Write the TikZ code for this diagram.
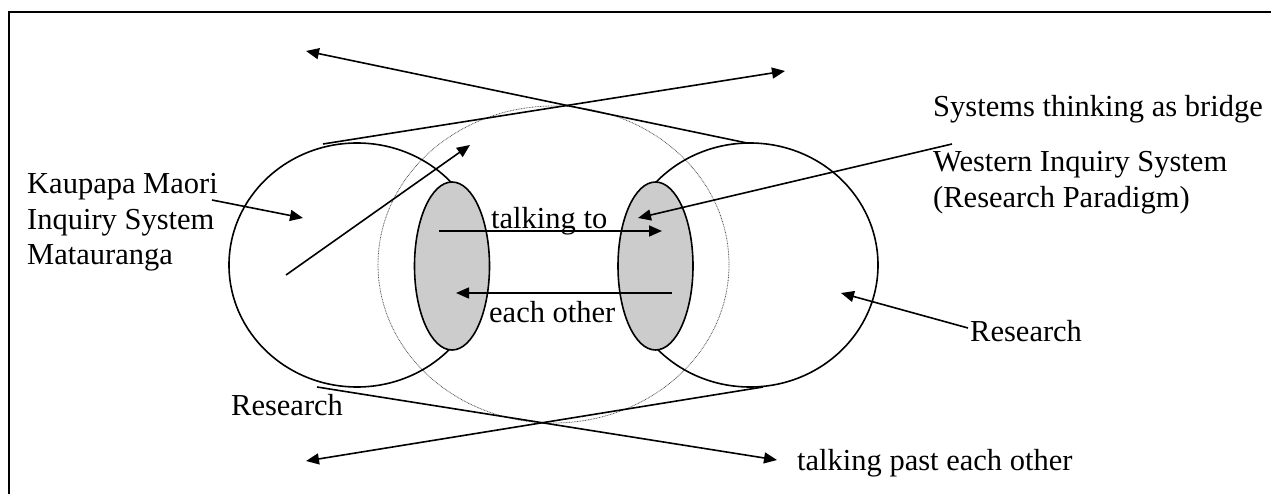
\documentclass[tikz,border=0pt]{standalone}
\usepackage{fontspec}
\setmainfont{Liberation Serif}
\usepackage{tikz}
\usetikzlibrary{positioning,arrows.meta,shapes.geometric}
\definecolor{overlap}{HTML}{CCCCCC}
\definecolor{ringgrey}{HTML}{555555}
\tikzset{
  system/.style={ellipse, draw=black, line width=1.6pt, inner sep=0pt,
                 minimum width=256pt, minimum height=244pt},
  shared/.style={ellipse, draw=black, fill=overlap, line width=1.6pt, inner sep=0pt,
                 minimum width=75pt, minimum height=168pt},
  bridgering/.style={ellipse, draw=ringgrey, line width=0.8pt, dash pattern=on 0.8pt off 0.8pt,
                 inner sep=0pt, minimum width=351pt, minimum height=317pt},
  txt/.style={font=\fontsize{30.5}{35.5}\selectfont, inner sep=0pt, align=left, anchor=base west},
  arr/.style={-{Triangle[length=13pt, width=11pt]}, line width=1.6pt},
}

\begin{document}
\begin{tikzpicture}[x=1pt, y=-1pt]
    \useasboundingbox (0,0) rectangle (1271,494);
    % frame, only top and left edges show
    \coordinate (frameBL) at (9,494);
    \coordinate (frameTL) at (9,12.5);
    \coordinate (frameTR) at (1271,12.5);
    \draw[line width=2pt] (frameBL) -- (frameTL) -- (frameTR);

    % the two inquiry systems and the bridge
    \node[bridgering] (bridge) at (553.5,264.5) {};
    \node[system] (maori) at (357,265) {};
    \node[system] (western) at (750,265) {};
    \node[shared] (maoriShared) at (452,266) {};
    \node[shared] (westernShared) at (655.5,266) {};

    % labels (multi-line ones sit on the baseline of their last line)
    \node[txt] (kaupapaLbl) at (27,265) {Kaupapa Maori\\Inquiry System\\Matauranga};
    \node[txt] (systemsLbl) at (933,117) {Systems thinking as bridge};
    \node[txt] (westernLbl) at (933,207.5) {Western Inquiry System\\(Research Paradigm)};
    \node[txt] (researchRLbl) at (970,341) {Research};
    \node[txt] (researchLLbl) at (231,415) {Research};
    \node[txt] (talkingToLbl) at (491,229) {talking to};
    \node[txt] (eachOtherLbl) at (489,322) {each other};
    \node[txt] (pastLbl) at (797,470) {talking past each other};

    % arrow ends
    \coordinate (kaupapaTail) at (212,200);  \coordinate (kaupapaTip) at (303,218);
    \coordinate (diagTail) at (286,275);     \coordinate (diagTip) at (470,145);
    \coordinate (toTail) at (439,231);       \coordinate (toTip) at (662,231);
    \coordinate (backTail) at (672,293);     \coordinate (backTip) at (456,293);
    \coordinate (westernTail) at (952,144);  \coordinate (westernTip) at (638,218);
    \coordinate (researchTail) at (968,328); \coordinate (researchTip) at (841,293);
    \coordinate (topA) at (747,143);         \coordinate (topATip) at (306,51);
    \coordinate (topB) at (323,144);         \coordinate (topBTip) at (785,71);
    \coordinate (botA) at (317,387);         \coordinate (botATip) at (777,460);
    \coordinate (botB) at (763,387);         \coordinate (botBTip) at (306,461);

    \draw[arr] (kaupapaTail) -- (kaupapaTip);
    \draw[arr] (diagTail) -- (diagTip);
    \draw[arr] (toTail) -- (toTip);
    \draw[arr] (backTail) -- (backTip);
    \draw[arr] (westernTail) -- (westernTip);
    \draw[arr] (researchTail) -- (researchTip);
    \draw[arr] (topA) -- (topATip);
    \draw[arr] (topB) -- (topBTip);
    \draw[arr] (botA) -- (botATip);
    \draw[arr] (botB) -- (botBTip);
\end{tikzpicture}
\end{document}
